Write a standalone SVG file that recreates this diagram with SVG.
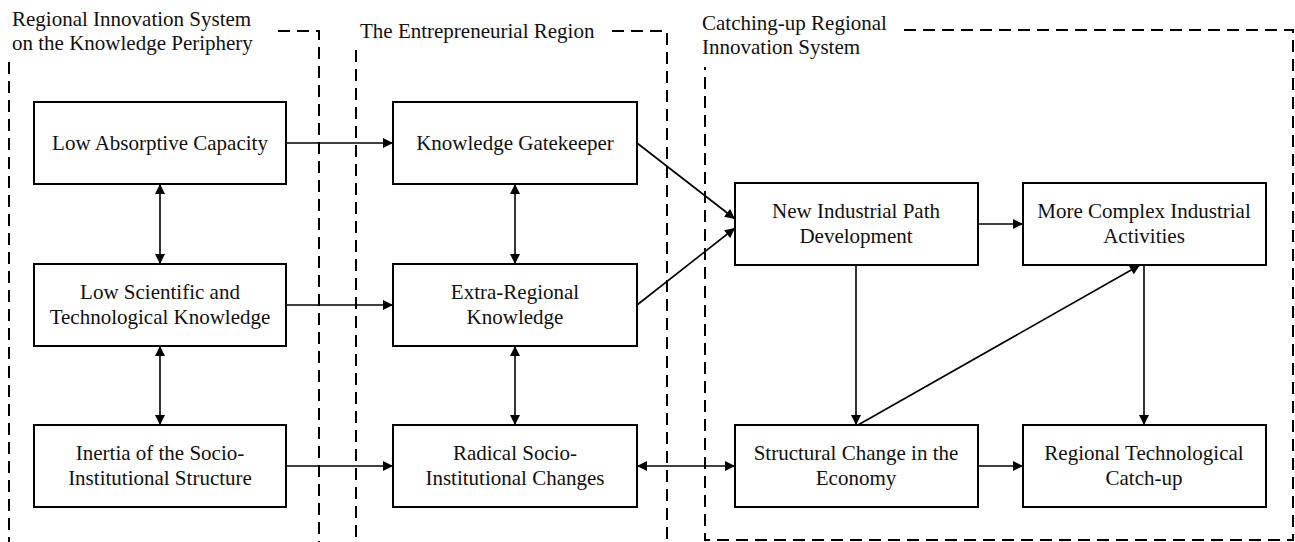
<svg xmlns="http://www.w3.org/2000/svg" width="1295" height="542" viewBox="0 0 1295 542">
<style>
.bg{fill:#fff}
.box{fill:#fff;stroke:#000;stroke-width:2}
.t{font-family:"Liberation Serif","Times New Roman",serif;font-size:21px;fill:#111;text-anchor:middle}
.ttl{font-family:"Liberation Serif","Times New Roman",serif;font-size:21px;fill:#111}
.dash{fill:none;stroke:#000;stroke-width:2;stroke-dasharray:12 7}
.ln{fill:none;stroke:#000;stroke-width:1.6}
</style>
<defs>
<marker id="ah" viewBox="0 0 10 10" refX="10" refY="5" markerWidth="11" markerHeight="10" markerUnits="userSpaceOnUse" orient="auto-start-reverse">
<path d="M0,0 L10,5 L0,10 z" fill="#000"/>
</marker>
</defs>
<rect class="bg" x="0" y="0" width="1295" height="542"/>
<g id="regions">
<g id="region-periphery">
<path class="dash" d="M278,31 H319 V560"/>
<path class="dash" d="M9,62 V560"/>
<text class="ttl" x="12" y="26">Regional  Innovation  System</text>
<text class="ttl" x="12" y="50">on the Knowledge Periphery</text>
</g>
<g id="region-entrepreneurial">
<path class="dash" d="M612,31 H667 V560"/>
<path class="dash" d="M356,50 V560"/>
<text class="ttl" x="360" y="38">The Entrepreneurial  Region</text>
</g>
<g id="region-catchingup">
<path class="dash" d="M904,30 H1293 V540 H705 V67"/>
<text class="ttl" x="702" y="30">Catching-up Regional</text>
<text class="ttl" x="702" y="54">Innovation System</text>
</g>
</g>
<g id="connectors">
<line class="ln" x1="286" y1="143" x2="393" y2="143" marker-end="url(#ah)"/>
<line class="ln" x1="286" y1="305" x2="393" y2="305" marker-end="url(#ah)"/>
<line class="ln" x1="286" y1="466" x2="393" y2="466" marker-end="url(#ah)"/>
<line class="ln" x1="160" y1="184" x2="160" y2="264" marker-start="url(#ah)" marker-end="url(#ah)"/>
<line class="ln" x1="160" y1="346" x2="160" y2="425" marker-start="url(#ah)" marker-end="url(#ah)"/>
<line class="ln" x1="515" y1="184" x2="515" y2="264" marker-start="url(#ah)" marker-end="url(#ah)"/>
<line class="ln" x1="515" y1="346" x2="515" y2="425" marker-start="url(#ah)" marker-end="url(#ah)"/>
<line class="ln" x1="637" y1="466" x2="735" y2="466" marker-start="url(#ah)" marker-end="url(#ah)"/>
<line class="ln" x1="637" y1="143" x2="735" y2="219" marker-end="url(#ah)"/>
<line class="ln" x1="637" y1="305" x2="735" y2="228" marker-end="url(#ah)"/>
<line class="ln" x1="978" y1="224" x2="1023" y2="224" marker-end="url(#ah)"/>
<line class="ln" x1="856" y1="265" x2="856" y2="425" marker-end="url(#ah)"/>
<line class="ln" x1="858" y1="425" x2="1140" y2="265" marker-end="url(#ah)"/>
<line class="ln" x1="1144" y1="265" x2="1144" y2="425" marker-end="url(#ah)"/>
<line class="ln" x1="978" y1="466" x2="1023" y2="466" marker-end="url(#ah)"/>
</g>
<g id="n-low-absorptive">
<rect class="box" x="34" y="102" width="252" height="82"/>
<text class="t" x="160" y="150">Low Absorptive Capacity</text>
</g>
<g id="n-low-scientific">
<rect class="box" x="34" y="264" width="252" height="82"/>
<text class="t" x="160" y="299">Low Scientific and</text>
<text class="t" x="160" y="324">Technological  Knowledge</text>
</g>
<g id="n-inertia">
<rect class="box" x="34" y="425" width="252" height="82"/>
<text class="t" x="160" y="460">Inertia of the Socio-</text>
<text class="t" x="160" y="485">Institutional Structure</text>
</g>
<g id="n-gatekeeper">
<rect class="box" x="393" y="102" width="244" height="82"/>
<text class="t" x="515" y="150">Knowledge Gatekeeper</text>
</g>
<g id="n-extra-regional">
<rect class="box" x="393" y="264" width="244" height="82"/>
<text class="t" x="515" y="299">Extra-Regional</text>
<text class="t" x="515" y="324">Knowledge</text>
</g>
<g id="n-radical">
<rect class="box" x="393" y="425" width="244" height="82"/>
<text class="t" x="515" y="460">Radical Socio-</text>
<text class="t" x="515" y="485">Institutional Changes</text>
</g>
<g id="n-new-path">
<rect class="box" x="735" y="183" width="243" height="82"/>
<text class="t" x="856" y="218">New Industrial Path</text>
<text class="t" x="856" y="243">Development</text>
</g>
<g id="n-more-complex">
<rect class="box" x="1023" y="183" width="243" height="82"/>
<text class="t" x="1144" y="218">More Complex Industrial</text>
<text class="t" x="1144" y="243">Activities</text>
</g>
<g id="n-structural">
<rect class="box" x="735" y="425" width="243" height="82"/>
<text class="t" x="856" y="460">Structural Change in the</text>
<text class="t" x="856" y="485">Economy</text>
</g>
<g id="n-catchup">
<rect class="box" x="1023" y="425" width="243" height="82"/>
<text class="t" x="1144" y="460">Regional Technological</text>
<text class="t" x="1144" y="485">Catch-up</text>
</g>
</svg>
